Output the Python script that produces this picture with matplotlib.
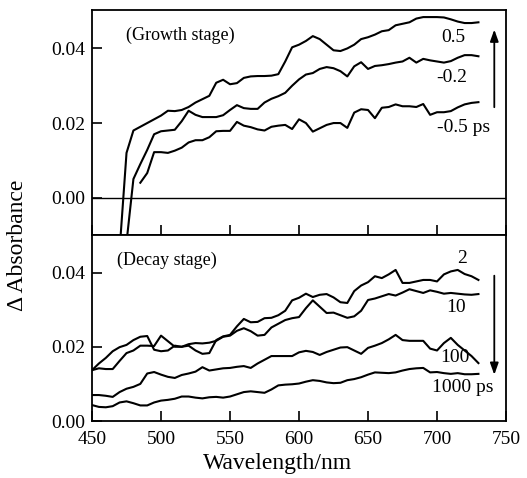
"""Transient absorption spectra: growth and decay stages."""

import matplotlib

matplotlib.use("Agg")

import matplotlib.pyplot as plt
import numpy as np

plt.rcParams["font.family"] = ["Liberation Serif", "DejaVu Serif"]
plt.rcParams["mathtext.fontset"] = "stix"

# wavelength grid (nm), 5 nm steps
wl_growth_05 = np.arange(470, 735, 5)
wl_growth_02 = np.arange(475, 735, 5)
wl_growth_m05 = np.arange(485, 735, 5)
wl_decay = np.arange(450, 735, 5)

growth_05 = [
    -0.014, 0.012, 0.018, 0.019, 0.020, 0.021, 0.022, 0.0233, 0.0232, 0.0235,
    0.0243, 0.0255, 0.0264, 0.0273, 0.0308, 0.0316, 0.0304, 0.0307, 0.0321, 0.0325,
    0.0326, 0.0326, 0.0327, 0.0331, 0.0365, 0.0403, 0.0410, 0.0420, 0.0433, 0.0425,
    0.0410, 0.0395, 0.0393, 0.0400, 0.0410, 0.0425, 0.0430, 0.0437, 0.0446, 0.0449,
    0.0462, 0.0466, 0.0470, 0.0480, 0.0484, 0.0484, 0.0484, 0.0483, 0.0478, 0.0472,
    0.0468, 0.0468, 0.0470,
]
growth_m02 = [
    -0.012, 0.005, 0.009, 0.0128, 0.0170, 0.0178, 0.0180, 0.0182, 0.0205, 0.0233,
    0.0222, 0.0216, 0.0216, 0.0216, 0.0221, 0.0235, 0.0248, 0.0240, 0.0238, 0.0238,
    0.0255, 0.0265, 0.0272, 0.0281, 0.0300, 0.0317, 0.0330, 0.0334, 0.0345, 0.0350,
    0.0347, 0.0339, 0.0325, 0.0352, 0.0363, 0.0345, 0.0353, 0.0355, 0.0358, 0.0362,
    0.0365, 0.0375, 0.0362, 0.0372, 0.0368, 0.0365, 0.0362, 0.0366, 0.0375, 0.0382,
    0.0382, 0.0379,
]
growth_m05 = [
    0.0040, 0.0066, 0.0122, 0.0122, 0.0120, 0.0126, 0.0134, 0.0148, 0.0154, 0.0154,
    0.0162, 0.0178, 0.0179, 0.0179, 0.0203, 0.0193, 0.0189, 0.0183, 0.0180, 0.0190,
    0.0193, 0.0195, 0.0184, 0.0210, 0.0200, 0.0177, 0.0186, 0.0195, 0.0200, 0.0200,
    0.0187, 0.0228, 0.0237, 0.0235, 0.0213, 0.0241, 0.0243, 0.0250, 0.0245, 0.0245,
    0.0243, 0.0251, 0.0222, 0.0229, 0.0229, 0.0232, 0.0242, 0.0250, 0.0254, 0.0256,
]

decay_2 = [
    0.0137, 0.0155, 0.0170, 0.0188, 0.0199, 0.0205, 0.0218, 0.0227, 0.0229, 0.0192,
    0.0188, 0.0190, 0.0203, 0.0200, 0.0203, 0.0190, 0.0181, 0.0183, 0.0218, 0.0228,
    0.0232, 0.0255, 0.0275, 0.0266, 0.0267, 0.0277, 0.0278, 0.0285, 0.0297, 0.0325,
    0.0332, 0.0343, 0.0334, 0.0340, 0.0342, 0.0333, 0.0320, 0.0318, 0.0350, 0.0365,
    0.0374, 0.0390, 0.0385, 0.0395, 0.0407, 0.0372, 0.0372, 0.0376, 0.0380, 0.0380,
    0.0376, 0.0395, 0.0403, 0.0407, 0.0396, 0.0390, 0.0380,
]
decay_10 = [
    0.0137, 0.0142, 0.0140, 0.0140, 0.0162, 0.0183, 0.0190, 0.0203, 0.0203, 0.0202,
    0.0230, 0.0215, 0.0200, 0.0200, 0.0207, 0.0210, 0.0209, 0.0211, 0.0216, 0.0227,
    0.0230, 0.0243, 0.0250, 0.0242, 0.0230, 0.0232, 0.0252, 0.0262, 0.0272, 0.0277,
    0.0280, 0.0304, 0.0325, 0.0308, 0.0291, 0.0292, 0.0285, 0.0278, 0.0282, 0.0297,
    0.0326, 0.0330, 0.0336, 0.0342, 0.0338, 0.0346, 0.0355, 0.0350, 0.0345, 0.0352,
    0.0348, 0.0343, 0.0345, 0.0343, 0.0341, 0.0340, 0.0342,
]
decay_100 = [
    0.0070, 0.0070, 0.0068, 0.0065, 0.0078, 0.0087, 0.0092, 0.0100, 0.0128, 0.0132,
    0.0125, 0.0119, 0.0116, 0.0124, 0.0128, 0.0133, 0.0145, 0.0136, 0.0139, 0.0142,
    0.0143, 0.0146, 0.0148, 0.0143, 0.0155, 0.0165, 0.0175, 0.0175, 0.0175, 0.0175,
    0.0185, 0.0189, 0.0186, 0.0178, 0.0186, 0.0192, 0.0198, 0.0199, 0.0190, 0.0181,
    0.0197, 0.0203, 0.0210, 0.0220, 0.0232, 0.0218, 0.0216, 0.0216, 0.0216, 0.0195,
    0.0190, 0.0210, 0.0224, 0.0205, 0.0190, 0.0175, 0.0156,
]
decay_1000 = [
    0.0043, 0.0038, 0.0037, 0.0040, 0.0050, 0.0053, 0.0048, 0.0042, 0.0042, 0.0050,
    0.0055, 0.0057, 0.0060, 0.0066, 0.0066, 0.0063, 0.0061, 0.0064, 0.0065, 0.0063,
    0.0066, 0.0072, 0.0078, 0.0080, 0.0078, 0.0076, 0.0085, 0.0096, 0.0098, 0.0099,
    0.0101, 0.0106, 0.0110, 0.0108, 0.0104, 0.0102, 0.0103, 0.0110, 0.0113, 0.0118,
    0.0125, 0.0131, 0.0130, 0.0129, 0.0131, 0.0136, 0.0140, 0.0142, 0.0143, 0.0131,
    0.0132, 0.0129, 0.0127, 0.0129, 0.0126, 0.0126, 0.0127,
]

y_ticks = [0.00, 0.02, 0.04]
x_ticks = [450, 500, 550, 600, 650, 700, 750]

LW = 1.5
TICK_FS = 14
LABEL_FS = 17


def style_axis(ax):
    for side in ax.spines.values():
        side.set_linewidth(1.3)
    ax.tick_params(direction="in", length=7, width=1.2, labelsize=TICK_FS,
                   top=False, right=False)
    ax.tick_params(axis="y", pad=5)
    ax.tick_params(axis="x", pad=7)
    ax.set_xlim(450, 750)
    ax.set_xticks(x_ticks)
    ax.set_yticks(y_ticks)
    ax.set_yticklabels([f"{v:.2f}" for v in y_ticks])


fig = plt.figure(figsize=(5.27, 4.78), dpi=100)
ax_top = fig.add_axes([0.1746, 0.5084, 0.7856, 0.4707])
ax_bot = fig.add_axes([0.1746, 0.1192, 0.7856, 0.3891])

# growth stage
for wl, vals in ((wl_growth_05, growth_05), (wl_growth_02, growth_m02),
                 (wl_growth_m05, growth_m05)):
    ax_top.plot(wl, vals, color="black", lw=LW)
ax_top.axhline(0.0, color="black", lw=1.0)
style_axis(ax_top)
ax_top.set_ylim(-0.0100, 0.0503)
ax_top.tick_params(axis="x", labelbottom=False)
ax_top.text(474.5, 0.0436, "(Growth stage)", fontsize=13, va="center")
ax_top.text(712, 0.0430, "0.5", fontsize=TICK_FS, ha="center", va="center")
ax_top.text(711, 0.0323, "-0.2", fontsize=TICK_FS, ha="center", va="center")
ax_top.text(700, 0.0187, "-0.5 ps", fontsize=TICK_FS, ha="left", va="center")
ax_top.annotate("", xy=(741.5, 0.0458), xytext=(741.5, 0.0235),
                arrowprops=dict(arrowstyle="-|>,head_length=0.7,head_width=0.25",
                                color="black", lw=1.3))

# decay stage
for vals in (decay_2, decay_10, decay_100, decay_1000):
    ax_bot.plot(wl_decay, vals, color="black", lw=LW)
style_axis(ax_bot)
ax_bot.set_ylim(0.0, 0.0501)
ax_bot.text(468, 0.0434, "(Decay stage)", fontsize=13, va="center")
ax_bot.text(718, 0.0439, "2", fontsize=TICK_FS, ha="center", va="center")
ax_bot.text(714, 0.0307, "10", fontsize=TICK_FS, ha="center", va="center")
ax_bot.text(713, 0.0170, "100", fontsize=TICK_FS, ha="center", va="center")
ax_bot.text(718.5, 0.0089, "1000 ps", fontsize=TICK_FS, ha="center", va="center")
ax_bot.annotate("", xy=(741.5, 0.0117), xytext=(741.5, 0.0399),
                arrowprops=dict(arrowstyle="-|>,head_length=0.7,head_width=0.25",
                                color="black", lw=1.3))

fig.text(0.034, 0.487, "\u0394 Absorbance", rotation=90, fontsize=LABEL_FS,
         ha="center", va="center")
fig.text(0.526, 0.031, "Wavelength/nm", fontsize=LABEL_FS, ha="center",
         va="center")

fig.savefig("out.png", dpi=100)
plt.close(fig)
